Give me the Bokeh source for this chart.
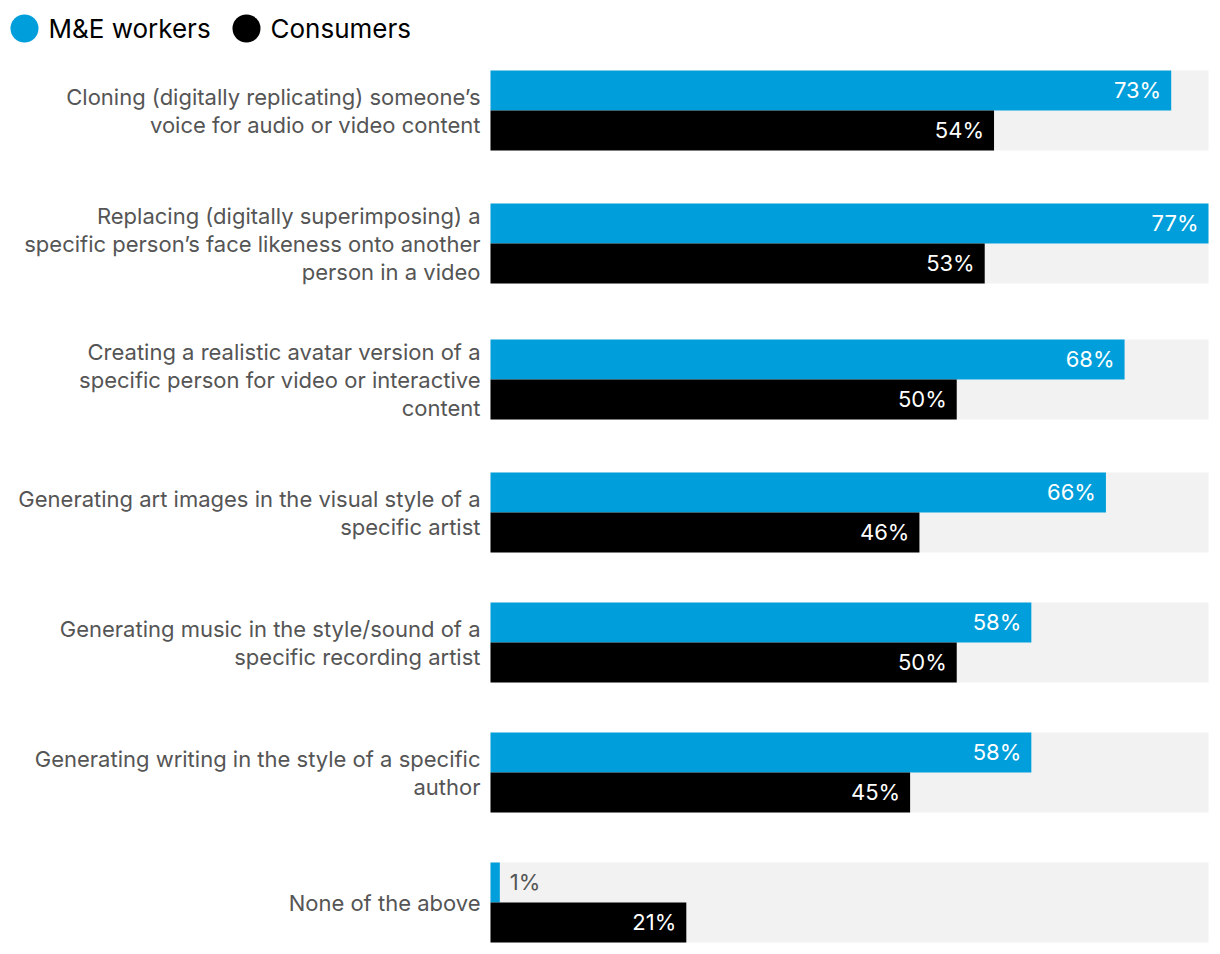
from bokeh.plotting import figure
from bokeh.models import Range1d, ColumnDataSource
from bokeh.core.properties import value
from bokeh.embed import file_html
from bokeh.resources import INLINE

categories = [
    "Cloning (digitally replicating) someone\u2019s\nvoice for audio or video content",
    "Replacing (digitally superimposing) a\nspecific person\u2019s face likeness onto another\nperson in a video",
    "Creating a realistic avatar version of a\nspecific person for video or interactive\ncontent",
    "Generating art images in the visual style of a\nspecific artist",
    "Generating music in the style/sound of a\nspecific recording artist",
    "Generating writing in the style of a specific\nauthor",
    "None of the above",
]
me_workers = [73, 77, 68, 66, 58, 58, 1]
consumers = [54, 53, 50, 46, 50, 45, 21]
series_names = ["M&E workers", "Consumers"]

BLUE = "#009fdb"
BLACK = "#000000"
GREY_BG = "#f2f2f2"
TXT = "#555555"
FONT = "Inter"

W, H = 1212, 946
max_val = max(me_workers + consumers)
left_px, right_px = 490, 1208  # canvas px for 0 and max
scale = (right_px - left_px) / max_val
x0 = -left_px / scale
x1 = x0 + W / scale

p = figure(width=W, height=H, output_backend="svg", toolbar_location=None,
           x_range=Range1d(x0, x1), y_range=Range1d(H, 0),
           min_border=0, outline_line_color=None)
p.axis.visible = False
p.grid.visible = False
p.background_fill_color = "white"
p.border_fill_color = "white"

bar_h = 40
line_h = 28
base_gap = 50
first_top = 70
nlines = [len(c.split("\n")) for c in categories]
overflow = [max(0, (n * line_h - 2 * bar_h) / 2 + 1) for n in nlines]
tops = [first_top]
for i in range(1, len(categories)):
    tops.append(tops[-1] + 2 * bar_h + base_gap + overflow[i - 1] + overflow[i])
blue_c = [t + bar_h / 2 for t in tops]
black_c = [t + bar_h * 1.5 for t in tops]
centers = [t + bar_h for t in tops]

# background
p.hbar(y=centers, left=0, right=max_val, height=bar_h * 2, color=GREY_BG, line_color=None)
src_b = ColumnDataSource(dict(y=blue_c, v=me_workers))
src_k = ColumnDataSource(dict(y=black_c, v=consumers))
p.hbar(y="y", left=0, right="v", height=bar_h, color=BLUE, line_color=None, source=src_b)
p.hbar(y="y", left=0, right="v", height=bar_h, color=BLACK, line_color=None, source=src_k)

VFS = "22px"
off = 10 / scale
dy = -1
inside_b = [(c, v, f"{v}%") for c, v in zip(blue_c, me_workers) if v >= 10]
outside_b = [(c, v, f"{v}%") for c, v in zip(blue_c, me_workers) if v < 10]
p.text(x=[v - off for _, v, _ in inside_b], y=[c + dy for c, _, _ in inside_b],
       text=[t for _, _, t in inside_b], text_align="right", text_baseline="middle",
       text_color="white", text_font=value(FONT), text_font_size=VFS)
p.text(x=[v + off for _, v, _ in outside_b], y=[c + dy for c, _, _ in outside_b],
       text=[t for _, _, t in outside_b], text_align="left", text_baseline="middle",
       text_color=TXT, text_font=value(FONT), text_font_size=VFS)
p.text(x=[v - off for v in consumers], y=[c + dy for c in black_c], text=[f"{v}%" for v in consumers],
       text_align="right", text_baseline="middle", text_color="white",
       text_font=value(FONT), text_font_size=VFS)

# category labels
lx, ly, lt = [], [], []
for c, cat in zip(centers, categories):
    lines = cat.split("\n")
    n = len(lines)
    for j, ln in enumerate(lines):
        lx.append(-10 / scale)
        ly.append(c + (j - (n - 1) / 2) * line_h)
        lt.append(ln)
p.text(x=lx, y=ly, text=lt, text_align="right", text_baseline="middle",
       text_color=TXT, text_font=value(FONT), text_font_size="22px")

# legend
leg_x_px = [24, 246]
leg_x = [x0 + px / scale for px in leg_x_px]
p.scatter(x=leg_x, y=[28, 28], size=28, color=[BLUE, BLACK], line_color=None)
p.text(x=[x0 + (px + 24) / scale for px in leg_x_px], y=[28, 28], text=series_names,
       text_align="left", text_baseline="middle", text_color="black",
       text_font=value(FONT), text_font_size="26px")

open("out.html", "w").write(file_html(p, INLINE))
